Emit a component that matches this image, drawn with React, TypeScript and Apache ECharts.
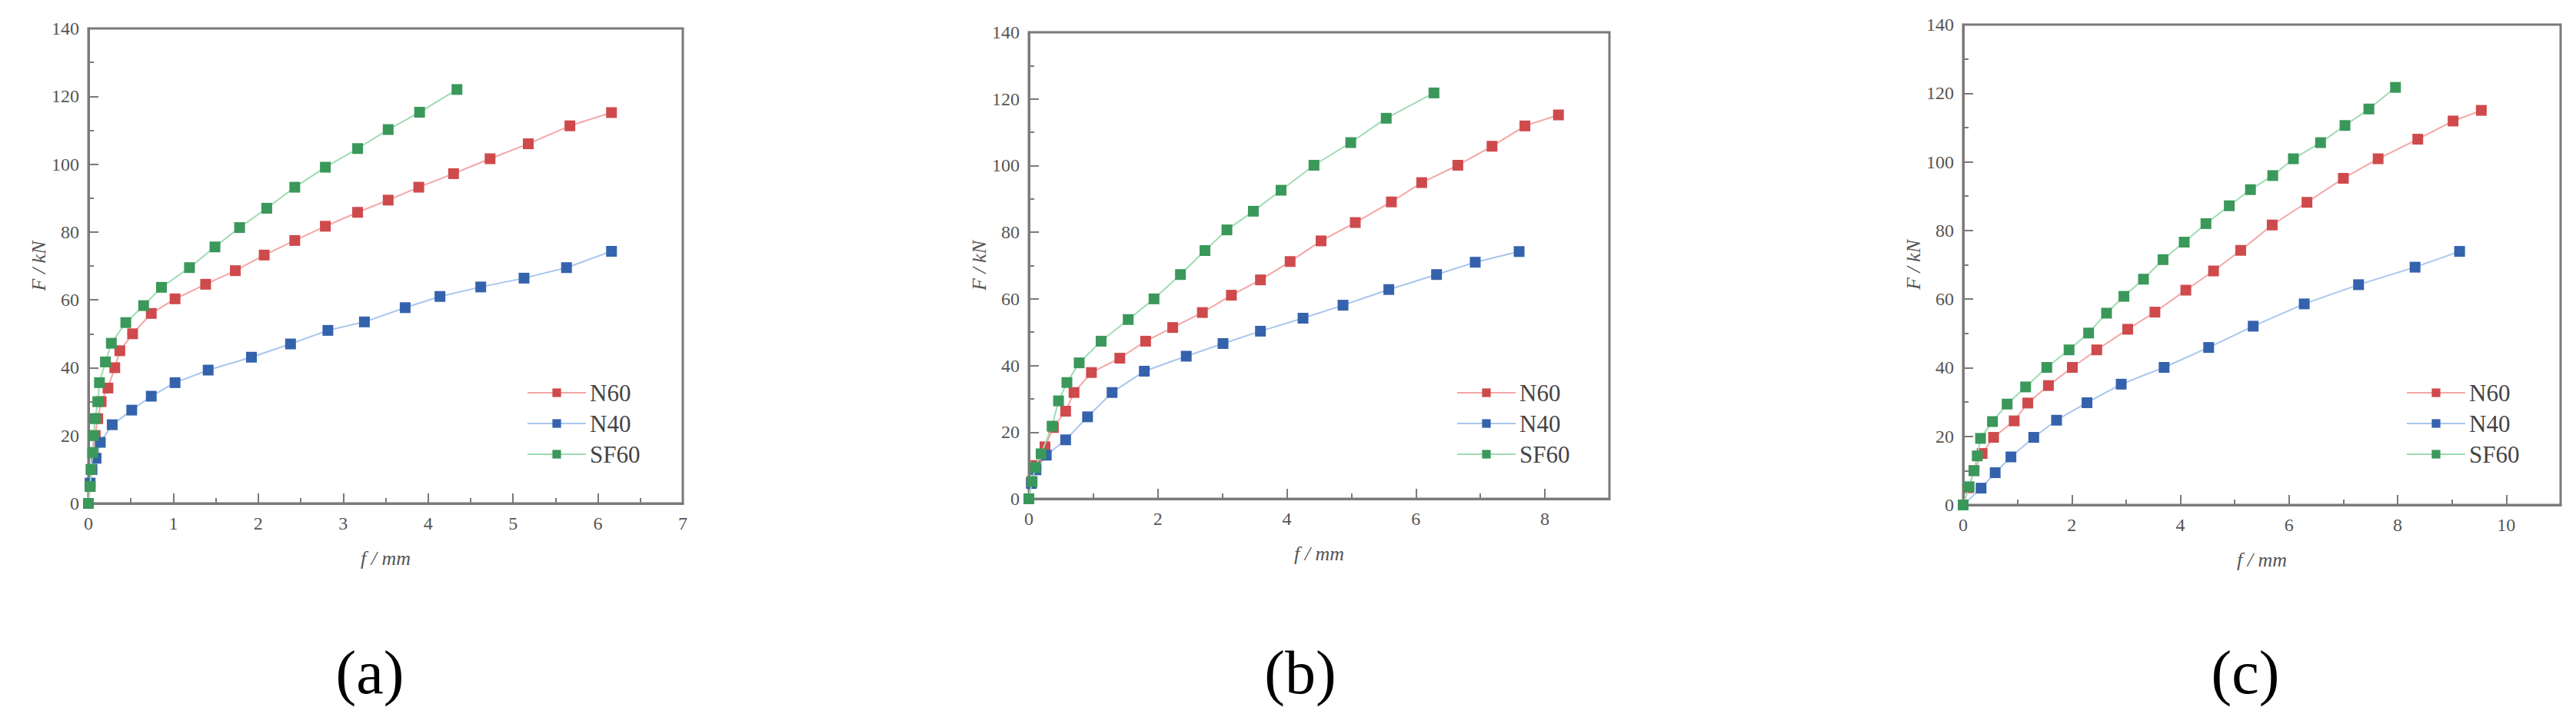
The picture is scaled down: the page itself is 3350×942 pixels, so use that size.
import React, { useEffect, useRef } from "react";
import * as echarts from "echarts";

// ---- data: [deflection f (mm), load F (kN)] ----
const seriesNames = ["N60", "N40", "SF60"];
const panelLabels = ["(a)", "(b)", "(c)"];
const xMax = [7, 9, 11];
const xInterval = [1, 2, 2];
const yTicks = [0, 20, 40, 60, 80, 100, 120, 140];

const aN60: number[][] = [[0,0],[0.02,5],[0.04,10],[0.06,15],[0.08,20],[0.11,25],[0.15,30],[0.23,34],[0.31,40],[0.37,45],[0.52,50],[0.74,56],[1.02,60.3],[1.38,64.6],[1.73,68.6],[2.07,73.2],[2.43,77.5],[2.79,81.7],[3.17,85.8],[3.53,89.4],[3.89,93.2],[4.3,97.2],[4.73,101.6],[5.18,106],[5.67,111.3],[6.16,115.2]];
const aN40: number[][] = [[0,0],[0.02,6],[0.04,10],[0.09,13.3],[0.14,18],[0.28,23.2],[0.51,27.5],[0.74,31.6],[1.02,35.6],[1.41,39.3],[1.92,43.1],[2.38,47],[2.82,51],[3.25,53.5],[3.73,57.7],[4.14,61],[4.62,63.8],[5.13,66.4],[5.63,69.5],[6.16,74.3]];
const aSF60: number[][] = [[0,0],[0.02,5],[0.03,10],[0.05,15],[0.06,20],[0.08,25],[0.11,30],[0.13,35.6],[0.2,41.7],[0.27,47.2],[0.44,53.3],[0.65,58.3],[0.86,63.7],[1.19,69.5],[1.49,75.6],[1.78,81.3],[2.1,87],[2.43,93.2],[2.79,99.1],[3.17,104.6],[3.53,110.2],[3.9,115.3],[4.34,122]];

const bN60: number[][] = [[0,0],[0.04,5],[0.11,10],[0.25,15.6],[0.38,21.4],[0.57,26.3],[0.7,31.9],[0.97,37.9],[1.41,42.2],[1.81,47.3],[2.23,51.4],[2.69,55.9],[3.14,61.1],[3.59,65.7],[4.05,71.2],[4.53,77.4],[5.06,82.9],[5.62,89.1],[6.09,94.9],[6.65,100.1],[7.18,105.8],[7.69,111.9],[8.21,115.2]];
const bN40: number[][] = [[0,0],[0.04,4.6],[0.11,8.7],[0.27,13.1],[0.57,17.7],[0.91,24.6],[1.29,31.9],[1.79,38.3],[2.44,42.8],[3.01,46.6],[3.59,50.3],[4.25,54.2],[4.87,58.1],[5.58,62.8],[6.32,67.3],[6.92,71],[7.6,74.2]];
const bSF60: number[][] = [[0,0],[0.05,5.2],[0.1,9.4],[0.19,13.5],[0.36,21.8],[0.46,29.4],[0.59,34.9],[0.78,40.8],[1.12,47.3],[1.54,53.8],[1.94,60],[2.35,67.3],[2.73,74.5],[3.07,80.7],[3.48,86.3],[3.91,92.6],[4.42,100.1],[4.99,106.9],[5.54,114.2],[6.28,121.8]];

const cN60: number[][] = [[0,0],[0.1,5],[0.2,10],[0.35,15],[0.56,19.7],[0.94,24.5],[1.19,29.7],[1.57,34.8],[2.01,40.1],[2.46,45.2],[3.03,51.2],[3.53,56.2],[4.1,62.6],[4.61,68.2],[5.11,74.2],[5.69,81.6],[6.33,88.2],[7.0,95.2],[7.64,100.9],[8.37,106.6],[9.02,111.9],[9.54,115]];
const cN40: number[][] = [[0,0],[0.33,4.9],[0.59,9.4],[0.88,14],[1.3,19.7],[1.72,24.7],[2.28,29.8],[2.91,35.2],[3.7,40.1],[4.52,45.9],[5.34,52.1],[6.28,58.6],[7.28,64.2],[8.32,69.3],[9.14,73.9]];
const cSF60: number[][] = [[0,0],[0.11,5.3],[0.2,10],[0.26,14.3],[0.32,19.4],[0.54,24.3],[0.81,29.4],[1.15,34.4],[1.54,40.1],[1.95,45.2],[2.31,50.1],[2.64,55.9],[2.96,60.8],[3.32,65.8],[3.68,71.5],[4.07,76.6],[4.47,82],[4.9,87.2],[5.29,91.9],[5.7,96],[6.08,100.9],[6.58,105.6],[7.03,110.6],[7.47,115.4],[7.96,121.7]];

const panelData = [
  [aN60, aN40, aSF60],
  [bN60, bN40, bSF60],
  [cN60, cN40, cSF60],
];

// ---- layout / style ----
const grids = [
  { left: 115, top: 37, width: 773, height: 618 },
  { left: 1338, top: 42, width: 755, height: 607 },
  { left: 2553, top: 32, width: 777, height: 625 },
];
const legendLeft = [680, 1889, 3124];
const legendTop = 490;
const panelLabelX = [481, 1691, 2920];
const markerColors = ["#cf4a4c", "#3562ad", "#3a985a"];
const lineColors = ["#f4a6a6", "#a9c6ee", "#9fdcb3"];
const axisColor = "#7a7a7a";
const serif = '"Liberation Serif", "Times New Roman", serif';

export default function App() {
  const ref = useRef<HTMLDivElement>(null);
  useEffect(() => {
    if (!ref.current) return;
    const chart = echarts.init(ref.current, undefined, { renderer: "svg" });

    const xAxis = grids.map((_, i) => ({
      type: "value",
      gridIndex: i,
      min: 0,
      max: xMax[i],
      interval: xInterval[i],
      name: "f / mm",
      nameLocation: "middle",
      nameGap: 58,
      nameTextStyle: { fontFamily: serif, fontStyle: "italic", fontSize: 26, color: "#555" },
      axisLine: { show: true, lineStyle: { color: axisColor, width: 3 } },
      axisTick: { show: true, inside: true, length: 13, lineStyle: { color: axisColor, width: 2 } },
      minorTick: { show: true, splitNumber: 2, length: 7, lineStyle: { color: axisColor, width: 2 } },
      splitLine: { show: false },
      minorSplitLine: { show: false },
      axisLabel: {
        fontFamily: serif,
        fontSize: 24,
        color: "#555",
        margin: 14,
        formatter: (v: number) => (v % xInterval[i] === 0 ? String(v) : ""),
      },
    }));

    const yAxis = grids.map((_, i) => ({
      type: "value",
      gridIndex: i,
      min: 0,
      max: yTicks[yTicks.length - 1],
      interval: yTicks[1] - yTicks[0],
      name: "F / kN",
      nameLocation: "middle",
      nameGap: 30,
      nameTextStyle: { fontFamily: serif, fontStyle: "italic", fontSize: 26, color: "#555" },
      axisLine: { show: true, lineStyle: { color: axisColor, width: 3 } },
      axisTick: { show: true, inside: true, length: 13, lineStyle: { color: axisColor, width: 2 } },
      minorTick: { show: true, splitNumber: 2, length: 7, lineStyle: { color: axisColor, width: 2 } },
      splitLine: { show: false },
      minorSplitLine: { show: false },
      axisLabel: { fontFamily: serif, fontSize: 24, color: "#555", margin: 12 },
    }));

    const series: any[] = [];
    panelData.forEach((sets, i) => {
      sets.forEach((d, k) => {
        series.push({
          type: "line",
          name: seriesNames[k],
          xAxisIndex: i,
          yAxisIndex: i,
          data: d,
          symbol: "rect",
          symbolSize: 14,
          showAllSymbol: true,
          lineStyle: { color: lineColors[k], width: 2 },
          itemStyle: { color: markerColors[k] },
          z: 3 + k,
        });
      });
    });

    const legend = legendLeft.map((l) => ({
      orient: "vertical",
      left: l,
      top: legendTop,
      itemWidth: 76,
      itemHeight: 14,
      itemGap: 8,
      selectedMode: false,
      data: seriesNames,
      textStyle: { fontFamily: serif, fontSize: 31, lineHeight: 32, color: "#444" },
    }));

    chart.setOption({
      animation: false,
      backgroundColor: "#fff",
      grid: grids.map((g) => ({
        ...g,
        show: true,
        borderColor: axisColor,
        borderWidth: 3,
        backgroundColor: "transparent",
        containLabel: false,
      })),
      xAxis,
      yAxis,
      legend,
      series,
      graphic: panelLabels.map((t, i) => ({
        type: "text",
        x: panelLabelX[i],
        y: 875,
        style: {
          text: t,
          fontFamily: serif,
          fontSize: 80,
          fill: "#000",
          textAlign: "center",
          textVerticalAlign: "middle",
        },
      })),
    });
    return () => chart.dispose();
  }, []);
  return (
    <div
      ref={ref}
      style={{ position: "absolute", left: 0, top: 0, width: 3350, height: 942, background: "#fff" }}
    />
  );
}
